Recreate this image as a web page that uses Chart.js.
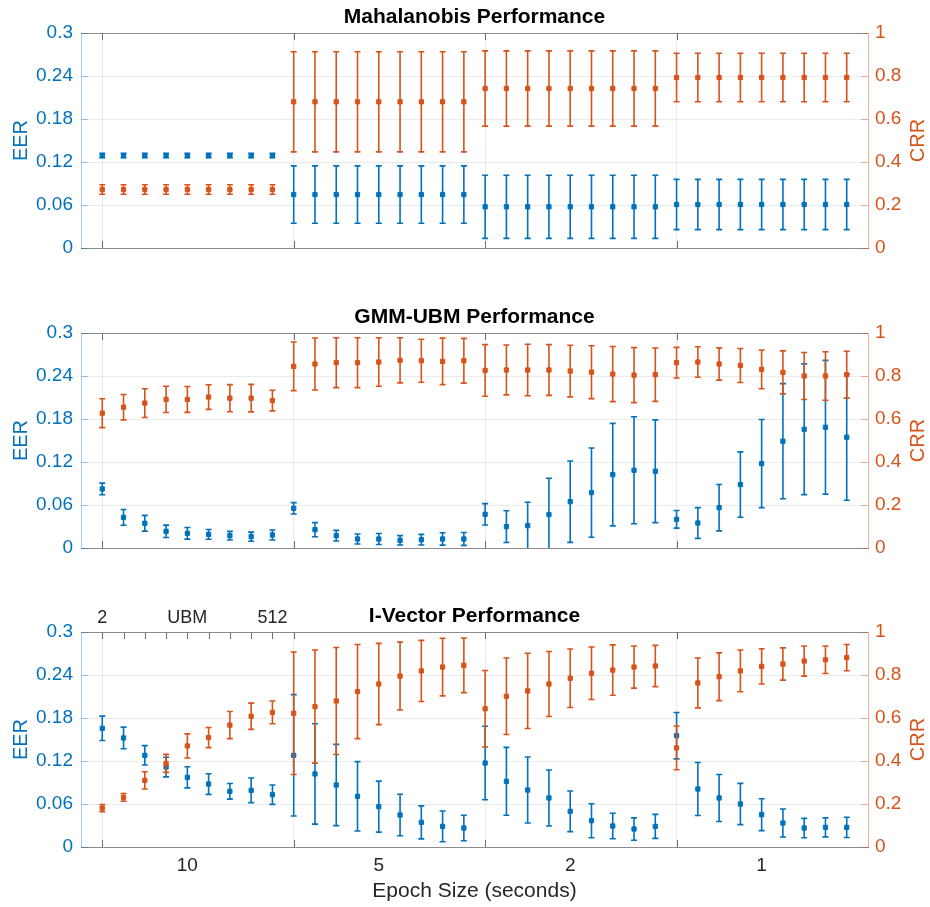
<!DOCTYPE html>
<html><head><meta charset="utf-8">
<script src="https://cdn.jsdelivr.net/npm/chart.js@4.4.1/dist/chart.umd.min.js"></script>
<style>
html,body{margin:0;padding:0;background:#fff;}
#wrap{position:relative;width:930px;height:907px;overflow:hidden;}
canvas{position:absolute;left:0;}
</style></head><body>
<div id="wrap">
<canvas id="c1" width="930" height="300" style="top:0"></canvas>
<canvas id="c2" width="930" height="300" style="top:300px"></canvas>
<canvas id="c3" width="930" height="307" style="top:600px"></canvas>
</div>
<script>
// ---------- data ----------
const epochLabels = ['10', '5', '2', '1'];          // group labels (seconds)
const ubmLabels = ['2', '', '', '', 'UBM', '', '', '', '512'];
const eerTicks = [0, 0.06, 0.12, 0.18, 0.24, 0.3];
const eerTickLabels = ['0', '0.06', '0.12', '0.18', '0.24', '0.3'];
const crrTicks = [0, 0.2, 0.4, 0.6, 0.8, 1];
const crrTickLabels = ['0', '0.2', '0.4', '0.6', '0.8', '1'];

const mahaEER = [0.129,0.129,0.129,0.129,0.129,0.129,0.129,0.129,0.129,
  0.0746,0.0746,0.0746,0.0746,0.0746,0.0746,0.0746,0.0746,0.0746,
  0.0575,0.0575,0.0575,0.0575,0.0575,0.0575,0.0575,0.0575,0.0575,
  0.0607,0.0607,0.0607,0.0607,0.0607,0.0607,0.0607,0.0607,0.0607];
const mahaEERErr = [0.003,0.003,0.003,0.003,0.003,0.003,0.003,0.003,0.003,
  0.040,0.040,0.040,0.040,0.040,0.040,0.040,0.040,0.040,
  0.044,0.044,0.044,0.044,0.044,0.044,0.044,0.044,0.044,
  0.035,0.035,0.035,0.035,0.035,0.035,0.035,0.035,0.035];
const mahaCRR = [0.272,0.272,0.272,0.272,0.272,0.272,0.272,0.272,0.272,
  0.680,0.680,0.680,0.680,0.680,0.680,0.680,0.680,0.680,
  0.742,0.742,0.742,0.742,0.742,0.742,0.742,0.742,0.742,
  0.793,0.793,0.793,0.793,0.793,0.793,0.793,0.793,0.793];
const mahaCRRErr = [0.022,0.022,0.022,0.022,0.022,0.022,0.022,0.022,0.022,
  0.233,0.233,0.233,0.233,0.233,0.233,0.233,0.233,0.233,
  0.175,0.175,0.175,0.175,0.175,0.175,0.175,0.175,0.175,
  0.113,0.113,0.113,0.113,0.113,0.113,0.113,0.113,0.113];

const gmmEER = [0.0824,0.0428,0.0345,0.0233,0.0205,0.0190,0.0172,0.0158,0.0182,
  0.0554,0.0256,0.0172,0.0126,0.0126,0.0107,0.0116,0.0126,0.0126,
  0.0470,0.0298,0.0312,0.0466,0.0647,0.0773,0.1024,0.1085,0.1071,
  0.0400,0.0349,0.0563,0.0885,0.1178,0.1490,0.1657,0.1685,0.1546];
const gmmEERErr = [0.0081,0.0110,0.0110,0.0086,0.0081,0.0068,0.0060,0.0063,0.0070,
  0.0079,0.0098,0.0074,0.0070,0.0077,0.0065,0.0074,0.0086,0.0090,
  0.0149,0.0221,0.0326,0.0507,0.0568,0.0622,0.0715,0.0747,0.0717,
  0.0123,0.0214,0.0324,0.0456,0.0615,0.0803,0.0912,0.0933,0.0880];
const gmmCRR = [0.627,0.655,0.674,0.691,0.691,0.702,0.697,0.697,0.686,
  0.845,0.856,0.862,0.862,0.865,0.873,0.871,0.868,0.871,
  0.826,0.828,0.828,0.828,0.823,0.818,0.809,0.804,0.806,
  0.862,0.865,0.856,0.849,0.831,0.817,0.800,0.800,0.806];
const gmmCRRErr = [0.067,0.059,0.067,0.061,0.060,0.057,0.063,0.064,0.048,
  0.113,0.121,0.116,0.116,0.113,0.105,0.100,0.108,0.104,
  0.120,0.116,0.120,0.118,0.120,0.123,0.128,0.128,0.124,
  0.071,0.071,0.075,0.079,0.090,0.100,0.109,0.113,0.109];

const ivEER = [0.1656,0.1521,0.1279,0.1116,0.0972,0.0879,0.0777,0.0791,0.0730,
  0.1279,0.1019,0.0865,0.0707,0.0563,0.0447,0.0344,0.0288,0.0265,
  0.1172,0.0916,0.0795,0.0684,0.0498,0.0367,0.0293,0.0251,0.0288,
  0.1553,0.0809,0.0684,0.0600,0.0451,0.0335,0.0265,0.0274,0.0274];
const ivEERErr = [0.0170,0.0151,0.0135,0.0137,0.0147,0.0144,0.0109,0.0172,0.0135,
  0.0847,0.0700,0.0567,0.0484,0.0356,0.0290,0.0230,0.0214,0.0177,
  0.0512,0.0474,0.0460,0.0390,0.0284,0.0237,0.0177,0.0156,0.0167,
  0.0323,0.0370,0.0328,0.0288,0.0223,0.0195,0.0135,0.0133,0.0142];
const ivCRR = [0.181,0.231,0.310,0.389,0.470,0.509,0.567,0.608,0.626,
  0.622,0.653,0.679,0.723,0.758,0.795,0.819,0.837,0.845,
  0.643,0.701,0.726,0.758,0.785,0.808,0.823,0.837,0.842,
  0.461,0.763,0.792,0.819,0.840,0.851,0.865,0.871,0.881];
const ivCRRErr = [0.017,0.018,0.040,0.042,0.056,0.047,0.063,0.061,0.053,
  0.285,0.263,0.249,0.219,0.189,0.158,0.142,0.134,0.127,
  0.178,0.178,0.175,0.151,0.136,0.122,0.117,0.098,0.096,
  0.102,0.116,0.111,0.097,0.082,0.075,0.070,0.064,0.061];

// ---------- style ----------
const BLUE = '#0072BD', ORANGE = '#D95319';
const AXGRAY = '#8c8c8c', GRID = 'rgba(38,38,38,0.09)';
const FONT = "'Liberation Sans', Arial, Helvetica, sans-serif";
Chart.defaults.font.family = FONT;
Chart.defaults.color = '#262626';

const PER_GROUP = 9;
const N = mahaEER.length;
const groupStarts = epochLabels.map((_, g) => g * PER_GROUP + 1);
const groupCenters = epochLabels.map((_, g) => g * PER_GROUP + 5);
const xTicks = groupStarts.concat(groupCenters).sort((a, b) => a - b);

const errbars = {
  id: 'errbars',
  beforeDatasetDraw(chart, args) {
    const ds = chart.data.datasets[args.index];
    if (!ds.errors) return;
    const ctx = chart.ctx, a = chart.chartArea;
    const xs = chart.scales.x, ys = chart.scales[ds.yAxisID];
    ctx.save();
    ctx.beginPath();
    ctx.rect(a.left, a.top, a.right - a.left, a.bottom - a.top);
    ctx.clip();
    ctx.strokeStyle = ds.borderColor;
    ctx.lineWidth = 1.6;
    ds.data.forEach((p, i) => {
      const e = ds.errors[i];
      const px = xs.getPixelForValue(p.x);
      const t = ys.getPixelForValue(p.y + e), b = ys.getPixelForValue(p.y - e);
      ctx.beginPath();
      ctx.moveTo(px, t); ctx.lineTo(px, b);
      ctx.moveTo(px - 3, t); ctx.lineTo(px + 3, t);
      ctx.moveTo(px - 3, b); ctx.lineTo(px + 3, b);
      ctx.stroke();
    });
    ctx.restore();
  }
};

const frame = {
  id: 'frame',
  afterDraw(chart, args, opts) {
    const ctx = chart.ctx, a = chart.chartArea, s = chart.scales;
    const topLabels = opts.topLabels || null;
    ctx.save();
    ctx.lineWidth = 1;
    // top box line
    ctx.strokeStyle = AXGRAY;
    ctx.beginPath();
    ctx.moveTo(a.left, Math.round(a.top) + 0.5); ctx.lineTo(a.right, Math.round(a.top) + 0.5);
    ctx.stroke();
    // x tick marks (inward)
    ctx.strokeStyle = '#6e6e6e';
    ctx.beginPath();
    groupStarts.forEach(v => {
      const px = Math.round(s.x.getPixelForValue(v)) + 0.5;
      ctx.moveTo(px, a.bottom); ctx.lineTo(px, a.bottom - 7);
      ctx.moveTo(px, a.top); ctx.lineTo(px, a.top + 7);
    });
    if (topLabels) {
      topLabels.forEach((_, i) => {
        const px = Math.round(s.x.getPixelForValue(i + 1)) + 0.5;
        ctx.moveTo(px, a.top); ctx.lineTo(px, a.top + 7);
      });
    }
    ctx.stroke();
    // secondary top tick labels (UBM size)
    if (topLabels) {
      ctx.fillStyle = '#262626';
      ctx.font = '18px ' + FONT;
      ctx.textAlign = 'center';
      ctx.textBaseline = 'alphabetic';
      topLabels.forEach((l, i) => {
        if (l) ctx.fillText(l, s.x.getPixelForValue(i + 1), a.top - 9);
      });
    }
    // y tick marks
    ctx.strokeStyle = 'rgba(0,114,189,0.35)';
    ctx.beginPath();
    eerTicks.forEach(v => {
      const py = Math.round(s.y.getPixelForValue(v)) + 0.5;
      ctx.moveTo(a.left, py); ctx.lineTo(a.left + 7, py);
    });
    ctx.stroke();
    ctx.strokeStyle = 'rgba(217,83,25,0.4)';
    ctx.beginPath();
    crrTicks.forEach(v => {
      const py = Math.round(s.y1.getPixelForValue(v)) + 0.5;
      ctx.moveTo(a.right, py); ctx.lineTo(a.right - 7, py);
    });
    ctx.stroke();
    // right axis label (reads bottom-to-top)
    ctx.fillStyle = ORANGE;
    ctx.font = '20px ' + FONT;
    ctx.textAlign = 'center';
    ctx.textBaseline = 'middle';
    ctx.translate(chart.width - 12, (a.top + a.bottom) / 2);
    ctx.rotate(-Math.PI / 2);
    ctx.fillText('CRR', 0, 0);
    ctx.restore();
  }
};

function makeChart(id, title, eer, eerErr, crr, crrErr, cfg) {
  const pts = arr => arr.map((v, i) => ({x: i + 1, y: v}));
  const scales = {
    x: {
      type: 'linear', position: 'bottom', min: 0, max: N + 1,
      afterBuildTicks: sc => { sc.ticks = xTicks.map(v => ({value: v})); },
      afterFit: sc => { sc.height = cfg.bottomH; },
      ticks: {
        autoSkip: false, maxRotation: 0, minRotation: 0, padding: 7,
        color: '#262626', font: {size: 19},
        callback: v => {
          if (!cfg.showX) return '';
          const g = groupCenters.indexOf(v);
          return g >= 0 ? epochLabels[g] : '';
        }
      },
      grid: {
        drawTicks: false, lineWidth: 1,
        color: c => (c.tick && groupStarts.indexOf(c.tick.value) >= 0) ? GRID : 'rgba(0,0,0,0)'
      },
      border: {color: AXGRAY, width: 1},
      title: {
        display: !!cfg.showX, text: 'Epoch Size (seconds)', color: '#262626',
        font: {size: 21}, padding: {top: 0, bottom: 3}
      }
    },
    y: {
      type: 'linear', position: 'left', min: 0, max: 0.3,
      afterBuildTicks: sc => { sc.ticks = eerTicks.map(v => ({value: v})); },
      afterFit: sc => { sc.width = 81; },
      ticks: {color: BLUE, font: {size: 19}, padding: 8, callback: (v, i) => eerTickLabels[i]},
      grid: {drawTicks: false, color: GRID},
      border: {color: 'rgba(0,114,189,0.35)', width: 1},
      title: {display: true, text: 'EER', color: BLUE, font: {size: 20}, padding: {top: 9, bottom: 0}}
    },
    y1: {
      type: 'linear', position: 'right', min: 0, max: 1,
      afterBuildTicks: sc => { sc.ticks = crrTicks.map(v => ({value: v})); },
      afterFit: sc => { sc.width = 62; },
      ticks: {color: ORANGE, font: {size: 19}, padding: 7, callback: (v, i) => crrTickLabels[i]},
      grid: {drawOnChartArea: false, drawTicks: false},
      border: {color: 'rgba(217,83,25,0.45)', width: 1}
    }
  };
  return new Chart(document.getElementById(id), {
    type: 'scatter',
    data: {
      datasets: [
        {label: 'CRR', data: pts(crr), errors: crrErr, yAxisID: 'y1', order: 0,
         backgroundColor: ORANGE, borderColor: ORANGE, pointStyle: 'rect',
         pointRadius: 3, pointBorderWidth: 1, showLine: false},
        {label: 'EER', data: pts(eer), errors: eerErr, yAxisID: 'y', order: 1,
         backgroundColor: BLUE, borderColor: BLUE, pointStyle: 'rect',
         pointRadius: 3, pointBorderWidth: 1, showLine: false}
      ]
    },
    options: {
      responsive: false, animation: false, devicePixelRatio: 1,
      events: [],
      layout: {padding: 0},
      plugins: {
        legend: {display: false},
        tooltip: {enabled: false},
        title: {
          display: true, text: title, color: '#000', fullSize: false,
          font: {size: 21, weight: 'bold'}, padding: {top: cfg.titleTop, bottom: 2.8}
        },
        frame: {topLabels: cfg.topLabels || null}
      },
      scales
    },
    plugins: [errbars, frame]
  });
}

makeChart('c1', 'Mahalanobis Performance', mahaEER, mahaEERErr, mahaCRR, mahaCRRErr,
  {bottomH: 52, titleTop: 5, showX: false});
makeChart('c2', 'GMM-UBM Performance', gmmEER, gmmEERErr, gmmCRR, gmmCRRErr,
  {bottomH: 52, titleTop: 5, showX: false});
makeChart('c3', 'I-Vector Performance', ivEER, ivEERErr, ivCRR, ivCRRErr,
  {bottomH: 60, titleTop: 4, showX: true, topLabels: ubmLabels});
</script>
</body></html>
